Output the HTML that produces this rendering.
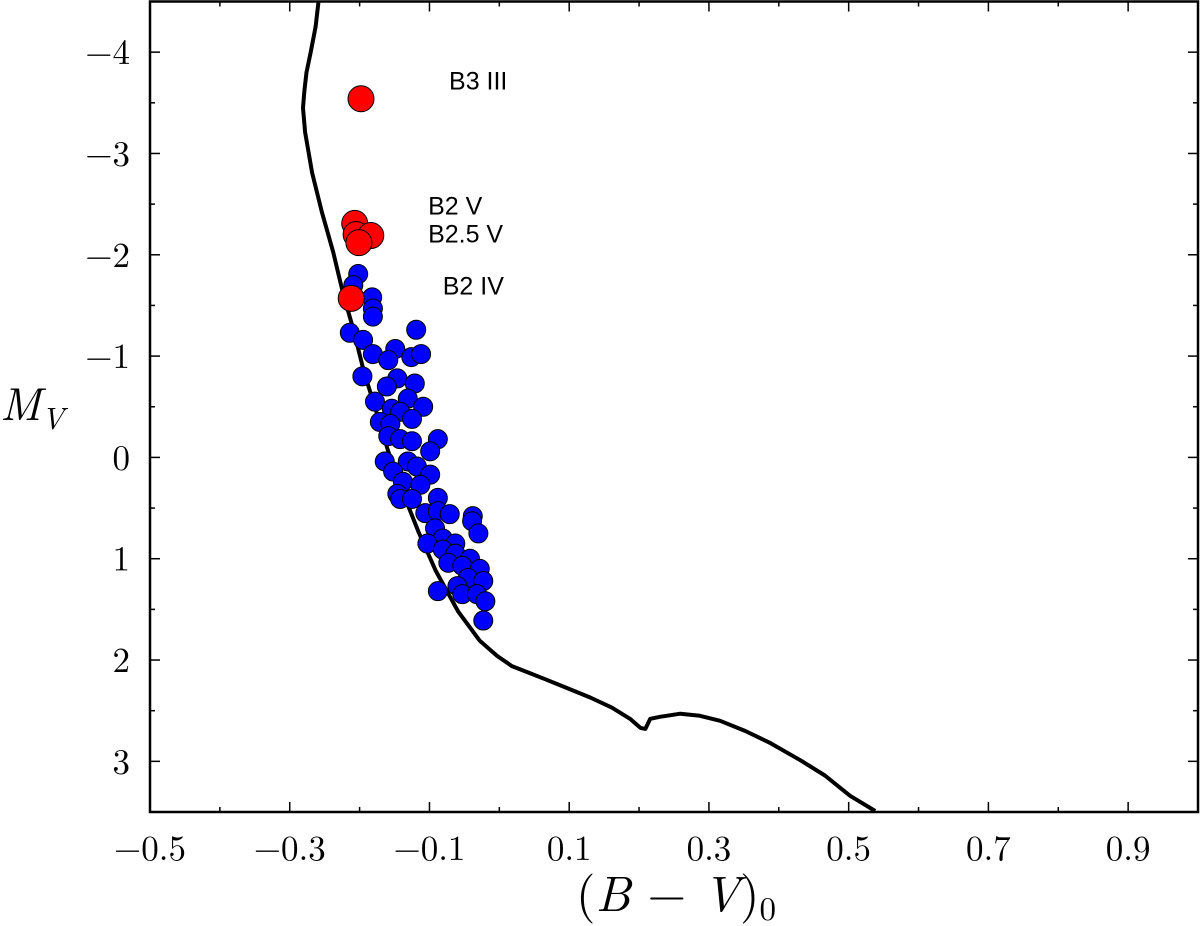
<!DOCTYPE html>
<html><head><meta charset="utf-8"><style>
html,body{margin:0;padding:0;background:#fff;}
svg{display:block;}
.tl{font-family:"Latin Modern Roman","DejaVu Serif","Liberation Serif",serif;font-size:35px;fill:#000;}
.lab{font-family:"Liberation Sans",sans-serif;font-size:25px;fill:#000;}
</style></head><body>
<svg id="chart" width="1200" height="926" xmlns="http://www.w3.org/2000/svg">
<g id="plot"></g>
</svg>
<script>
const xTicks=[-0.5,-0.3,-0.1,0.1,0.3,0.5,0.7,0.9];
const xTickLabels=["\u22120.5","\u22120.3","\u22120.1","0.1","0.3","0.5","0.7","0.9"];
const yTicks=[-4,-3,-2,-1,0,1,2,3];
const yTickLabels=["\u22124","\u22123","\u22122","\u22121","0","1","2","3"];
const isoBV=[-0.259,-0.263,-0.270,-0.276,-0.279,-0.281,-0.278,-0.268,-0.254,-0.238,-0.224,-0.208,-0.194,-0.176,-0.159,-0.139,-0.116,-0.091,-0.059,-0.028,-0.003,0.018,0.044,0.066,0.091,0.130,0.161,0.187,0.202,0.209,0.216,0.230,0.259,0.287,0.316,0.352,0.388,0.431,0.466,0.502,0.538];
const isoMV=[-4.49,-4.25,-4.00,-3.80,-3.62,-3.45,-3.21,-2.81,-2.42,-2.03,-1.63,-1.24,-0.85,-0.45,-0.06,0.33,0.73,1.12,1.52,1.81,1.96,2.06,2.13,2.19,2.26,2.37,2.47,2.58,2.67,2.68,2.58,2.56,2.53,2.55,2.60,2.70,2.82,2.99,3.14,3.34,3.49];
const blueBV=[-0.202,-0.209,-0.182,-0.181,-0.181,-0.119,-0.214,-0.195,-0.149,-0.181,-0.159,-0.126,-0.112,-0.196,-0.146,-0.161,-0.121,-0.131,-0.178,-0.109,-0.154,-0.142,-0.125,-0.171,-0.156,-0.159,-0.142,-0.125,-0.088,-0.099,-0.164,-0.131,-0.118,-0.099,-0.152,-0.138,-0.113,-0.146,-0.142,-0.125,-0.088,-0.106,-0.088,-0.071,-0.038,-0.039,-0.030,-0.092,-0.081,-0.103,-0.063,-0.081,-0.063,-0.042,-0.073,-0.053,-0.028,-0.045,-0.023,-0.060,-0.053,-0.088,-0.032,-0.020,-0.023];
const blueMV=[-1.81,-1.70,-1.58,-1.47,-1.39,-1.26,-1.23,-1.16,-1.07,-1.02,-0.96,-0.99,-1.02,-0.80,-0.78,-0.70,-0.73,-0.58,-0.55,-0.50,-0.48,-0.45,-0.38,-0.35,-0.33,-0.21,-0.18,-0.16,-0.18,-0.06,0.04,0.04,0.09,0.17,0.14,0.24,0.27,0.36,0.41,0.41,0.40,0.55,0.53,0.56,0.58,0.63,0.75,0.70,0.80,0.85,0.85,0.91,0.95,1.00,1.04,1.07,1.10,1.19,1.22,1.27,1.35,1.32,1.35,1.42,1.61];
const redBV=[-0.198,-0.207,-0.205,-0.184,-0.201,-0.212];
const redMV=[-3.54,-2.31,-2.20,-2.19,-2.12,-1.57];
const labelText=["B3 III","B2 V","B2.5 V","B2 IV"];
const labelBV=[-0.072,-0.102,-0.102,-0.081];
const labelMV=[-3.63,-2.40,-2.12,-1.61];

const L=150,R=1198,T=1.5,B=812;
const xMin=-0.5,xMax=1.0,yMin=-4.5,yMax=3.5;
const X=v=>L+(v-xMin)/(xMax-xMin)*(R-L);
const Y=v=>T+(v-yMin)/(yMax-yMin)*(B-T);
const NS="http://www.w3.org/2000/svg";
const g=document.getElementById('plot');
function mk(tag,attrs){const e=document.createElementNS(NS,tag);for(const k in attrs)e.setAttribute(k,attrs[k]);g.appendChild(e);return e;}

const defs=mk('defs',{});
const cp=document.createElementNS(NS,'clipPath');cp.setAttribute('id','clip');
const cr=document.createElementNS(NS,'rect');cr.setAttribute('x',L);cr.setAttribute('y',T);cr.setAttribute('width',R-L);cr.setAttribute('height',B-T);
cp.appendChild(cr);defs.appendChild(cp);

for(let v=-0.5;v<=1.0001;v+=0.1){
  const major=xTicks.some(t=>Math.abs(t-v)<1e-6);
  const len=major?10:5;const x=X(v);
  const t1=mk('line',{x1:x,x2:x,y1:B,y2:B-len,stroke:'#000','stroke-width':1.5});
  
  
  const t2=mk('line',{x1:x,x2:x,y1:T,y2:T+len,stroke:'#000','stroke-width':1.5});
  
  
}
for(let v=-4.5;v<=3.5001;v+=0.5){
  const major=yTicks.some(t=>Math.abs(t-v)<1e-6);
  const len=major?10:5;const y=Y(v);
  const t1=mk('line',{x1:L,x2:L+len,y1:y,y2:y,stroke:'#000','stroke-width':1.5});
  
  
  const t2=mk('line',{x1:R,x2:R-len,y1:y,y2:y,stroke:'#000','stroke-width':1.5});
  
  
}
xTicks.forEach((v,i)=>{
  const t=mk('text',{x:X(v),y:B+48,'text-anchor':'middle',class:'tl'});
  t.textContent=xTickLabels[i];
  
  
});
yTicks.forEach((v,i)=>{
  const t=mk('text',{x:L-20,y:Y(v)+12,'text-anchor':'end',class:'tl'});
  t.textContent=yTickLabels[i];
  
  
});

let d='';isoBV.forEach((b,i)=>{d+=(i?'L':'M')+X(b).toFixed(1)+','+Y(isoMV[i]).toFixed(1);});
const iso=mk('path',{d:d,fill:'none',stroke:'#000','stroke-width':4,'stroke-linejoin':'round','clip-path':'url(#clip)'});



blueBV.forEach((b,i)=>{
  const c=mk('circle',{cx:X(b),cy:Y(blueMV[i]),r:9.5,fill:'#0000ff',stroke:'#000','stroke-width':1});
  
  
});
redBV.forEach((b,i)=>{
  const c=mk('circle',{cx:X(b),cy:Y(redMV[i]),r:13,fill:'#ff0000',stroke:'#000','stroke-width':1});
  
  
});
labelText.forEach((s,i)=>{
  const t=mk('text',{x:X(labelBV[i]),y:Y(labelMV[i]),class:'lab'});
  t.textContent=s;
  
  
});

const fr=mk('rect',{x:L,y:T,width:R-L,height:B-T,fill:'none',stroke:'#000','stroke-width':2.5});



const xt=mk('text',{x:676,y:911,'text-anchor':'middle',class:'tl'});
xt.setAttribute('style','font-size:50px');
xt.innerHTML='(<tspan font-style="italic">B</tspan> \u2212 <tspan font-style="italic">V</tspan>)<tspan style="font-size:33px" dy="9">0</tspan>';


const yt=mk('text',{x:0,y:420,class:'tl'});
yt.setAttribute('style','font-size:46px');
yt.innerHTML='<tspan font-style="italic">M</tspan><tspan font-style="italic" style="font-size:31px" dy="9">V</tspan>';


</script>
</body></html>
